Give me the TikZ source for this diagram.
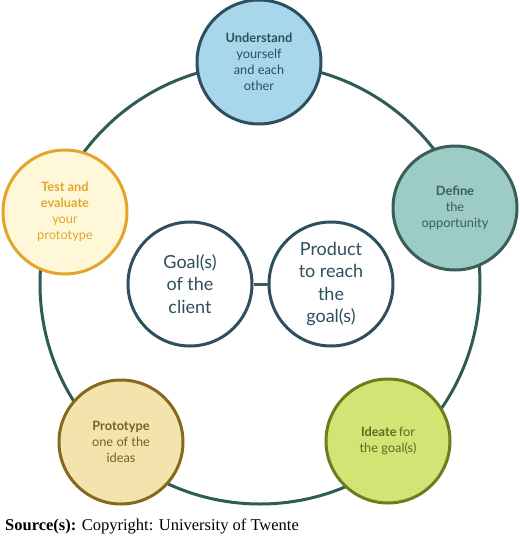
\documentclass[tikz,border=0pt]{standalone}
\usepackage{fontspec}
\setmainfont{Lato}
\newfontfamily\serifsrc{Liberation Serif}
\definecolor{ringc}{HTML}{2F5A58}
\definecolor{slate}{HTML}{2E4F5E}
\definecolor{ubg}{HTML}{A8D6EA}
\definecolor{dbg}{HTML}{9DCBC6}
\definecolor{dbd}{HTML}{3C5E57}
\definecolor{tbg}{HTML}{FFF8D8}
\definecolor{tbd}{HTML}{E3A52C}
\definecolor{pbg}{HTML}{F3E4AE}
\definecolor{pbd}{HTML}{86691C}
\definecolor{ptx}{HTML}{77611F}
\definecolor{ibg}{HTML}{D2E474}
\definecolor{ibd}{HTML}{6A7E1E}
\definecolor{itx}{HTML}{5D6C22}
\tikzset{
  stepnode/.style={circle, minimum size=124pt, inner sep=0pt, line width=3pt, align=center, font=\fontsize{12.8}{16}\selectfont},
  centernode/.style={circle, minimum size=124pt, inner sep=0pt, line width=3pt, align=center, draw=slate, fill=white, text=slate, font=\fontsize{18}{22.5}\selectfont},
}
\begin{document}
\begin{tikzpicture}[x=1pt,y=-1pt]
\useasboundingbox (0,0) rectangle (520,539);
\draw[ringc, line width=3pt] (260,284) circle[radius=220];
\node[stepnode, draw=slate, fill=ubg, text=slate] (und) at (259,62) {\textbf{Understand}\\yourself\\and each\\other};
\node[stepnode, draw=dbd, fill=dbg, text=dbd] (def) at (455,208) {\textbf{Define}\\the\\opportunity};
\node[stepnode, draw=tbd, fill=tbg, text=tbd] (tst) at (65,212) {\textbf{Test and}\\\textbf{evaluate}\\your\\prototype};
\node[stepnode, draw=pbd, fill=pbg, text=ptx] (pro) at (121,442) {\textbf{Prototype}\\one of the\\ideas};
\node[stepnode, draw=ibd, fill=ibg, text=itx] (ide) at (388,441) {\textbf{Ideate}\,for\\the goal(s)};
\node[centernode] (goal) at (190,284) {Goal(s)\\of the\\client};
\node[centernode] (prod) at (331,284) {Product\\to reach\\the\\goal(s)};
\draw[dbd, line width=3pt] (goal.east) -- (prod.west);
\node[anchor=west, inner sep=0pt, font=\serifsrc\fontsize{16.5}{18}\selectfont] (src) at (5,526) {\textbf{Source(s):} Copyright: University of Twente};
\end{tikzpicture}
\end{document}
